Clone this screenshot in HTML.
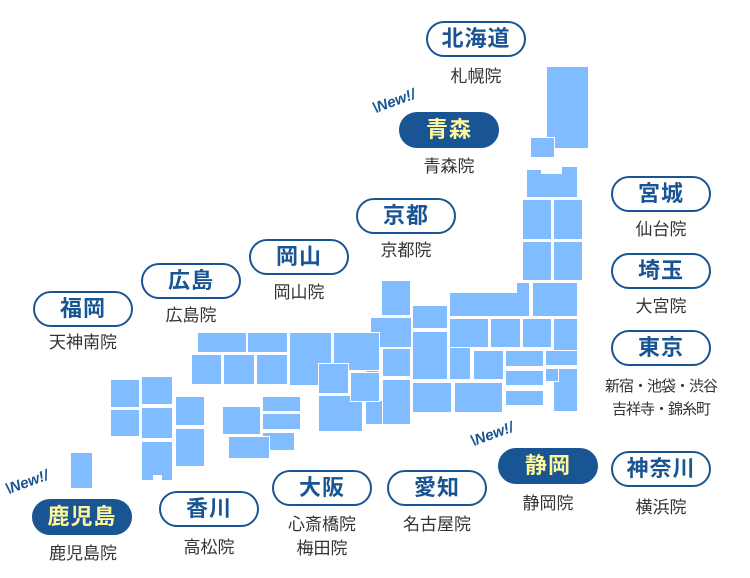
<!DOCTYPE html><html><head><meta charset="utf-8"><style>
body{margin:0;width:750px;height:578px;background:#fff;position:relative;overflow:hidden;font-family:"Liberation Sans","Noto Sans CJK JP",sans-serif}
.b{position:absolute;background:#80bcff;outline:1.5px solid #fff}
.p{position:absolute;width:96px;height:32px;border:2px solid #1a5593;border-radius:18px;background:#fff;color:#1a5593;font-weight:bold;font-size:22px;line-height:32px;text-align:center;letter-spacing:1px}
.f{background:#1a5593;color:#fff799}
.s{position:absolute;width:160px;text-align:center;font-size:17px;color:#333;line-height:20px}
.n{position:absolute;font-size:15px;font-weight:bold;font-style:italic;color:#1a5593;transform:rotate(-20deg);white-space:nowrap}
</style></head><body>
<div class="b" style="left:547px;top:67px;width:41px;height:81px"></div>
<div class="b" style="left:531px;top:138px;width:23px;height:19px"></div>
<div class="b" style="left:527px;top:174px;width:50px;height:23px"></div>
<div class="b" style="left:527px;top:170px;width:14px;height:10px;outline:none"></div>
<div class="b" style="left:562px;top:167px;width:15px;height:12px;outline:none"></div>
<div class="b" style="left:523px;top:200px;width:28px;height:39px"></div>
<div class="b" style="left:554px;top:200px;width:28px;height:39px"></div>
<div class="b" style="left:523px;top:242px;width:28px;height:38px"></div>
<div class="b" style="left:554px;top:242px;width:28px;height:38px"></div>
<div class="b" style="left:450px;top:293px;width:79px;height:23px"></div>
<div class="b" style="left:517px;top:283px;width:12px;height:12px;outline:none"></div>
<div class="b" style="left:533px;top:283px;width:44px;height:33px"></div>
<div class="b" style="left:450px;top:319px;width:20px;height:60px"></div>
<div class="b" style="left:450px;top:319px;width:38px;height:28px"></div>
<div class="b" style="left:491px;top:319px;width:29px;height:28px"></div>
<div class="b" style="left:523px;top:319px;width:28px;height:28px"></div>
<div class="b" style="left:554px;top:319px;width:23px;height:46px"></div>
<div class="b" style="left:546px;top:351px;width:31px;height:14px"></div>
<div class="b" style="left:554px;top:369px;width:23px;height:42px"></div>
<div class="b" style="left:546px;top:369px;width:12px;height:12px"></div>
<div class="b" style="left:474px;top:351px;width:29px;height:28px"></div>
<div class="b" style="left:506px;top:351px;width:37px;height:15px"></div>
<div class="b" style="left:506px;top:371px;width:37px;height:14px"></div>
<div class="b" style="left:506px;top:391px;width:37px;height:14px"></div>
<div class="b" style="left:413px;top:383px;width:38px;height:29px"></div>
<div class="b" style="left:455px;top:383px;width:47px;height:29px"></div>
<div class="b" style="left:413px;top:306px;width:34px;height:22px"></div>
<div class="b" style="left:413px;top:332px;width:34px;height:47px"></div>
<div class="b" style="left:382px;top:281px;width:28px;height:34px"></div>
<div class="b" style="left:371px;top:318px;width:40px;height:29px"></div>
<div class="b" style="left:366px;top:350px;width:12px;height:26px"></div>
<div class="b" style="left:383px;top:349px;width:27px;height:27px"></div>
<div class="b" style="left:366px;top:401px;width:44px;height:23px"></div>
<div class="b" style="left:383px;top:380px;width:27px;height:44px"></div>
<div class="b" style="left:366px;top:379px;width:12px;height:22px"></div>
<div class="b" style="left:198px;top:333px;width:48px;height:19px"></div>
<div class="b" style="left:248px;top:333px;width:39px;height:19px"></div>
<div class="b" style="left:290px;top:333px;width:41px;height:52px"></div>
<div class="b" style="left:334px;top:333px;width:45px;height:37px"></div>
<div class="b" style="left:192px;top:355px;width:29px;height:29px"></div>
<div class="b" style="left:224px;top:355px;width:30px;height:29px"></div>
<div class="b" style="left:257px;top:355px;width:30px;height:29px"></div>
<div class="b" style="left:319px;top:396px;width:43px;height:35px"></div>
<div class="b" style="left:319px;top:364px;width:29px;height:29px"></div>
<div class="b" style="left:351px;top:373px;width:28px;height:28px"></div>
<div class="b" style="left:223px;top:407px;width:37px;height:27px"></div>
<div class="b" style="left:263px;top:397px;width:37px;height:14px"></div>
<div class="b" style="left:263px;top:414px;width:37px;height:15px"></div>
<div class="b" style="left:263px;top:433px;width:31px;height:17px"></div>
<div class="b" style="left:229px;top:437px;width:40px;height:21px"></div>
<div class="b" style="left:111px;top:380px;width:28px;height:27px"></div>
<div class="b" style="left:111px;top:410px;width:28px;height:26px"></div>
<div class="b" style="left:142px;top:377px;width:30px;height:27px"></div>
<div class="b" style="left:142px;top:408px;width:30px;height:30px"></div>
<div class="b" style="left:142px;top:442px;width:30px;height:38px"></div>
<div style="position:absolute;left:153px;top:475px;width:9px;height:6px;background:#fff"></div>
<div class="b" style="left:176px;top:397px;width:28px;height:28px"></div>
<div class="b" style="left:176px;top:429px;width:28px;height:37px"></div>
<div class="b" style="left:71px;top:453px;width:21px;height:35px"></div>

<div class="p" style="left:426px;top:21px">北海道</div><div class="s" style="left:396px;top:67px">札幌院</div>
<div class="n" style="left:372px;top:93px">\New!/</div>
<div class="p f" style="left:399px;top:112px">青森</div><div class="s" style="left:369px;top:157px">青森院</div>
<div class="p" style="left:356px;top:198px">京都</div><div class="s" style="left:326px;top:241px">京都院</div>
<div class="p" style="left:611px;top:176px">宮城</div><div class="s" style="left:581px;top:220px">仙台院</div>
<div class="p" style="left:611px;top:253px">埼玉</div><div class="s" style="left:581px;top:297px">大宮院</div>
<div class="p" style="left:611px;top:330px">東京</div>
<div class="s" style="left:581px;top:377px;font-size:15px;letter-spacing:-1px">新宿・池袋・渋谷</div>
<div class="s" style="left:581px;top:400px;font-size:15px;letter-spacing:-1px">吉祥寺・錦糸町</div>
<div class="p" style="left:249px;top:239px">岡山</div><div class="s" style="left:219px;top:283px">岡山院</div>
<div class="p" style="left:141px;top:263px">広島</div><div class="s" style="left:111px;top:306px">広島院</div>
<div class="p" style="left:33px;top:291px">福岡</div><div class="s" style="left:3px;top:333px">天神南院</div>
<div class="n" style="left:470px;top:426px">\New!/</div>
<div class="p f" style="left:498px;top:448px">静岡</div><div class="s" style="left:468px;top:494px">静岡院</div>
<div class="p" style="left:611px;top:451px">神奈川</div><div class="s" style="left:581px;top:498px">横浜院</div>
<div class="p" style="left:387px;top:470px">愛知</div><div class="s" style="left:357px;top:515px">名古屋院</div>
<div class="p" style="left:272px;top:470px">大阪</div><div class="s" style="left:242px;top:515px">心斎橋院</div><div class="s" style="left:242px;top:539px">梅田院</div>
<div class="p" style="left:159px;top:491px">香川</div><div class="s" style="left:129px;top:538px">高松院</div>
<div class="n" style="left:5px;top:474px">\New!/</div>
<div class="p f" style="left:32px;top:499px">鹿児島</div><div class="s" style="left:3px;top:544px">鹿児島院</div>
</body></html>
